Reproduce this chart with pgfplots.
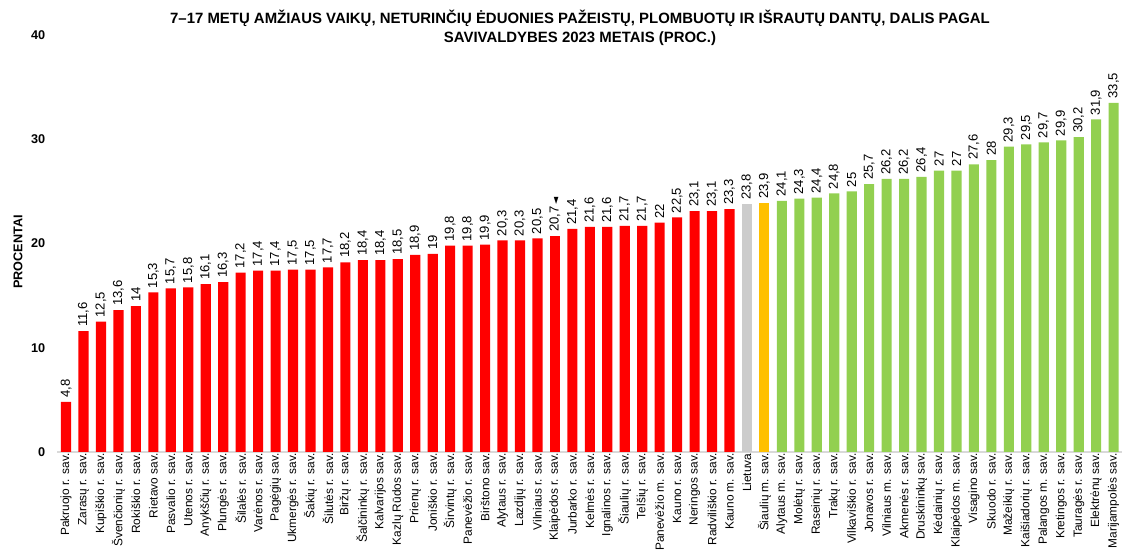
\documentclass[border=0pt]{standalone}
\usepackage{pgfplots}
\pgfplotsset{compat=1.18}
\usepackage{fontspec}
\setmainfont{Liberation Sans}
\newfontfamily\symfont{DejaVu Sans}
\definecolor{cred}{HTML}{FF0000}
\definecolor{cgrey}{HTML}{CCCCCC}
\definecolor{corange}{HTML}{FFC000}
\definecolor{cgreen}{HTML}{92D050}
\definecolor{caxis}{HTML}{D9D9D9}
\begin{document}
\begin{tikzpicture}
\path[use as bounding box] (0,0) rectangle (841.5pt,416.25pt);
\begin{axis}[
  at={(43pt,77.25pt)}, anchor=south west,
  scale only axis, width=798.75pt, height=312.75pt,
  xmin=-0.5, xmax=60.5, ymin=0, ymax=40,
  ybar, bar width=7.6pt,
  separate axis lines,
  axis x line=bottom, axis y line=left,
  x axis line style={draw=caxis, line width=1.2pt, -},
  y axis line style={draw=none},
  major tick length=0pt,
  ytick={0,10,20,30,40},
  yticklabel style={font=\bfseries\fontsize{9.5}{11}\selectfont, anchor=east, xshift=-5.5pt},
  xtick={0,...,60},
  xticklabels={Pakruojo r. sav.,Zarasų r. sav.,Kupiškio r. sav.,Švenčionių r. sav.,Rokiškio r. sav.,Rietavo sav.,Pasvalio r. sav.,Utenos r. sav.,Anykščių r. sav.,Plungės r. sav.,Šilalės r. sav.,Varėnos r. sav.,Pagėgių sav.,Ukmergės r. sav.,Šakių r. sav.,Šilutės r. sav.,Biržų r. sav.,Šalčininkų r. sav.,Kalvarijos sav.,Kazlų Rūdos sav.,Prienų r. sav.,Joniškio r. sav.,Širvintų r. sav.,Panevėžio r. sav.,Birštono sav.,Alytaus r. sav.,Lazdijų r. sav.,Vilniaus r. sav.,Klaipėdos r. sav.,Jurbarko r. sav.,Kelmės r. sav.,Ignalinos r. sav.,Šiaulių r. sav.,Telšių r. sav.,Panevėžio m. sav.,Kauno r. sav.,Neringos sav.,Radviliškio r. sav.,Kauno m. sav.,Lietuva,Šiaulių m. sav.,Alytaus m. sav.,Molėtų r. sav.,Raseinių r. sav.,Trakų r. sav.,Vilkaviškio r. sav.,Jonavos r. sav.,Vilniaus m. sav.,Akmenės r. sav.,Druskininkų sav.,Kėdainių r. sav.,Klaipėdos m. sav.,Visagino sav.,Skuodo r. sav.,Mažeikių r. sav.,Kaišiadorių r. sav.,Palangos m. sav.,Kretingos r. sav.,Tauragės r. sav.,Elektrėnų sav.,Marijampolės sav.},
  xticklabel style={rotate=90, anchor=east, font=\fontsize{8.9}{10}\selectfont, inner sep=1pt, yshift=0pt},
  /pgf/number format/.cd, use comma, 1000 sep={}, assume math mode=true,
  /pgfplots/.cd,
  nodes near coords,
  nodes near coords style={rotate=90, anchor=west, font=\fontsize{9.8}{11}\selectfont, inner sep=3pt},
  title={7–17 METŲ AMŽIAUS  VAIKŲ, NETURINČIŲ ĖDUONIES PAŽEISTŲ, PLOMBUOTŲ IR IŠRAUTŲ DANTŲ, DALIS PAGAL\\SAVIVALDYBES 2023 METAIS (PROC.)},
  title style={font=\bfseries\fontsize{11.2}{14.5}\selectfont, align=center, at={(rel axis cs:0.4908,1)}, anchor=center, yshift=-0.7pt},
  ylabel={PROCENTAI},
  ylabel style={font=\bfseries\fontsize{9.5}{11}\selectfont, at={(rel axis cs:-0.0369,0.48)}, anchor=center, rotate=0},
  clip=false,
]
\addplot[fill=cred, draw=none, bar shift=0pt] coordinates {
(0,4.8) (1,11.6) (2,12.5) (3,13.6) (4,14) (5,15.3) (6,15.7) (7,15.8) (8,16.1) (9,16.3)
(10,17.2) (11,17.4) (12,17.4) (13,17.5) (14,17.5) (15,17.7) (16,18.2) (17,18.4) (18,18.4) (19,18.5)
(20,18.9) (21,19) (22,19.8) (23,19.8) (24,19.9) (25,20.3) (26,20.3) (27,20.5)
(29,21.4) (30,21.6) (31,21.6) (32,21.7) (33,21.7) (34,22) (35,22.5) (36,23.1) (37,23.1) (38,23.3)
};
\addplot[fill=cred, draw=none, bar shift=0pt,
  nodes near coords={\pgfmathprintnumber{\pgfplotspointmeta}\,{\symfont\fontsize{7}{8}\selectfont ◄}}] coordinates {
(28,20.7)
};
\addplot[fill=cgrey, draw=none, bar shift=0pt] coordinates {(39,23.8)};
\addplot[fill=corange, draw=none, bar shift=0pt] coordinates {(40,23.9)};
\addplot[fill=cgreen, draw=none, bar shift=0pt] coordinates {
(41,24.1) (42,24.3) (43,24.4) (44,24.8) (45,25) (46,25.7) (47,26.2) (48,26.2) (49,26.4) (50,27)
(51,27) (52,27.6) (53,28) (54,29.3) (55,29.5) (56,29.7) (57,29.9) (58,30.2) (59,31.9) (60,33.5)
};
\end{axis}
\end{tikzpicture}
\end{document}
